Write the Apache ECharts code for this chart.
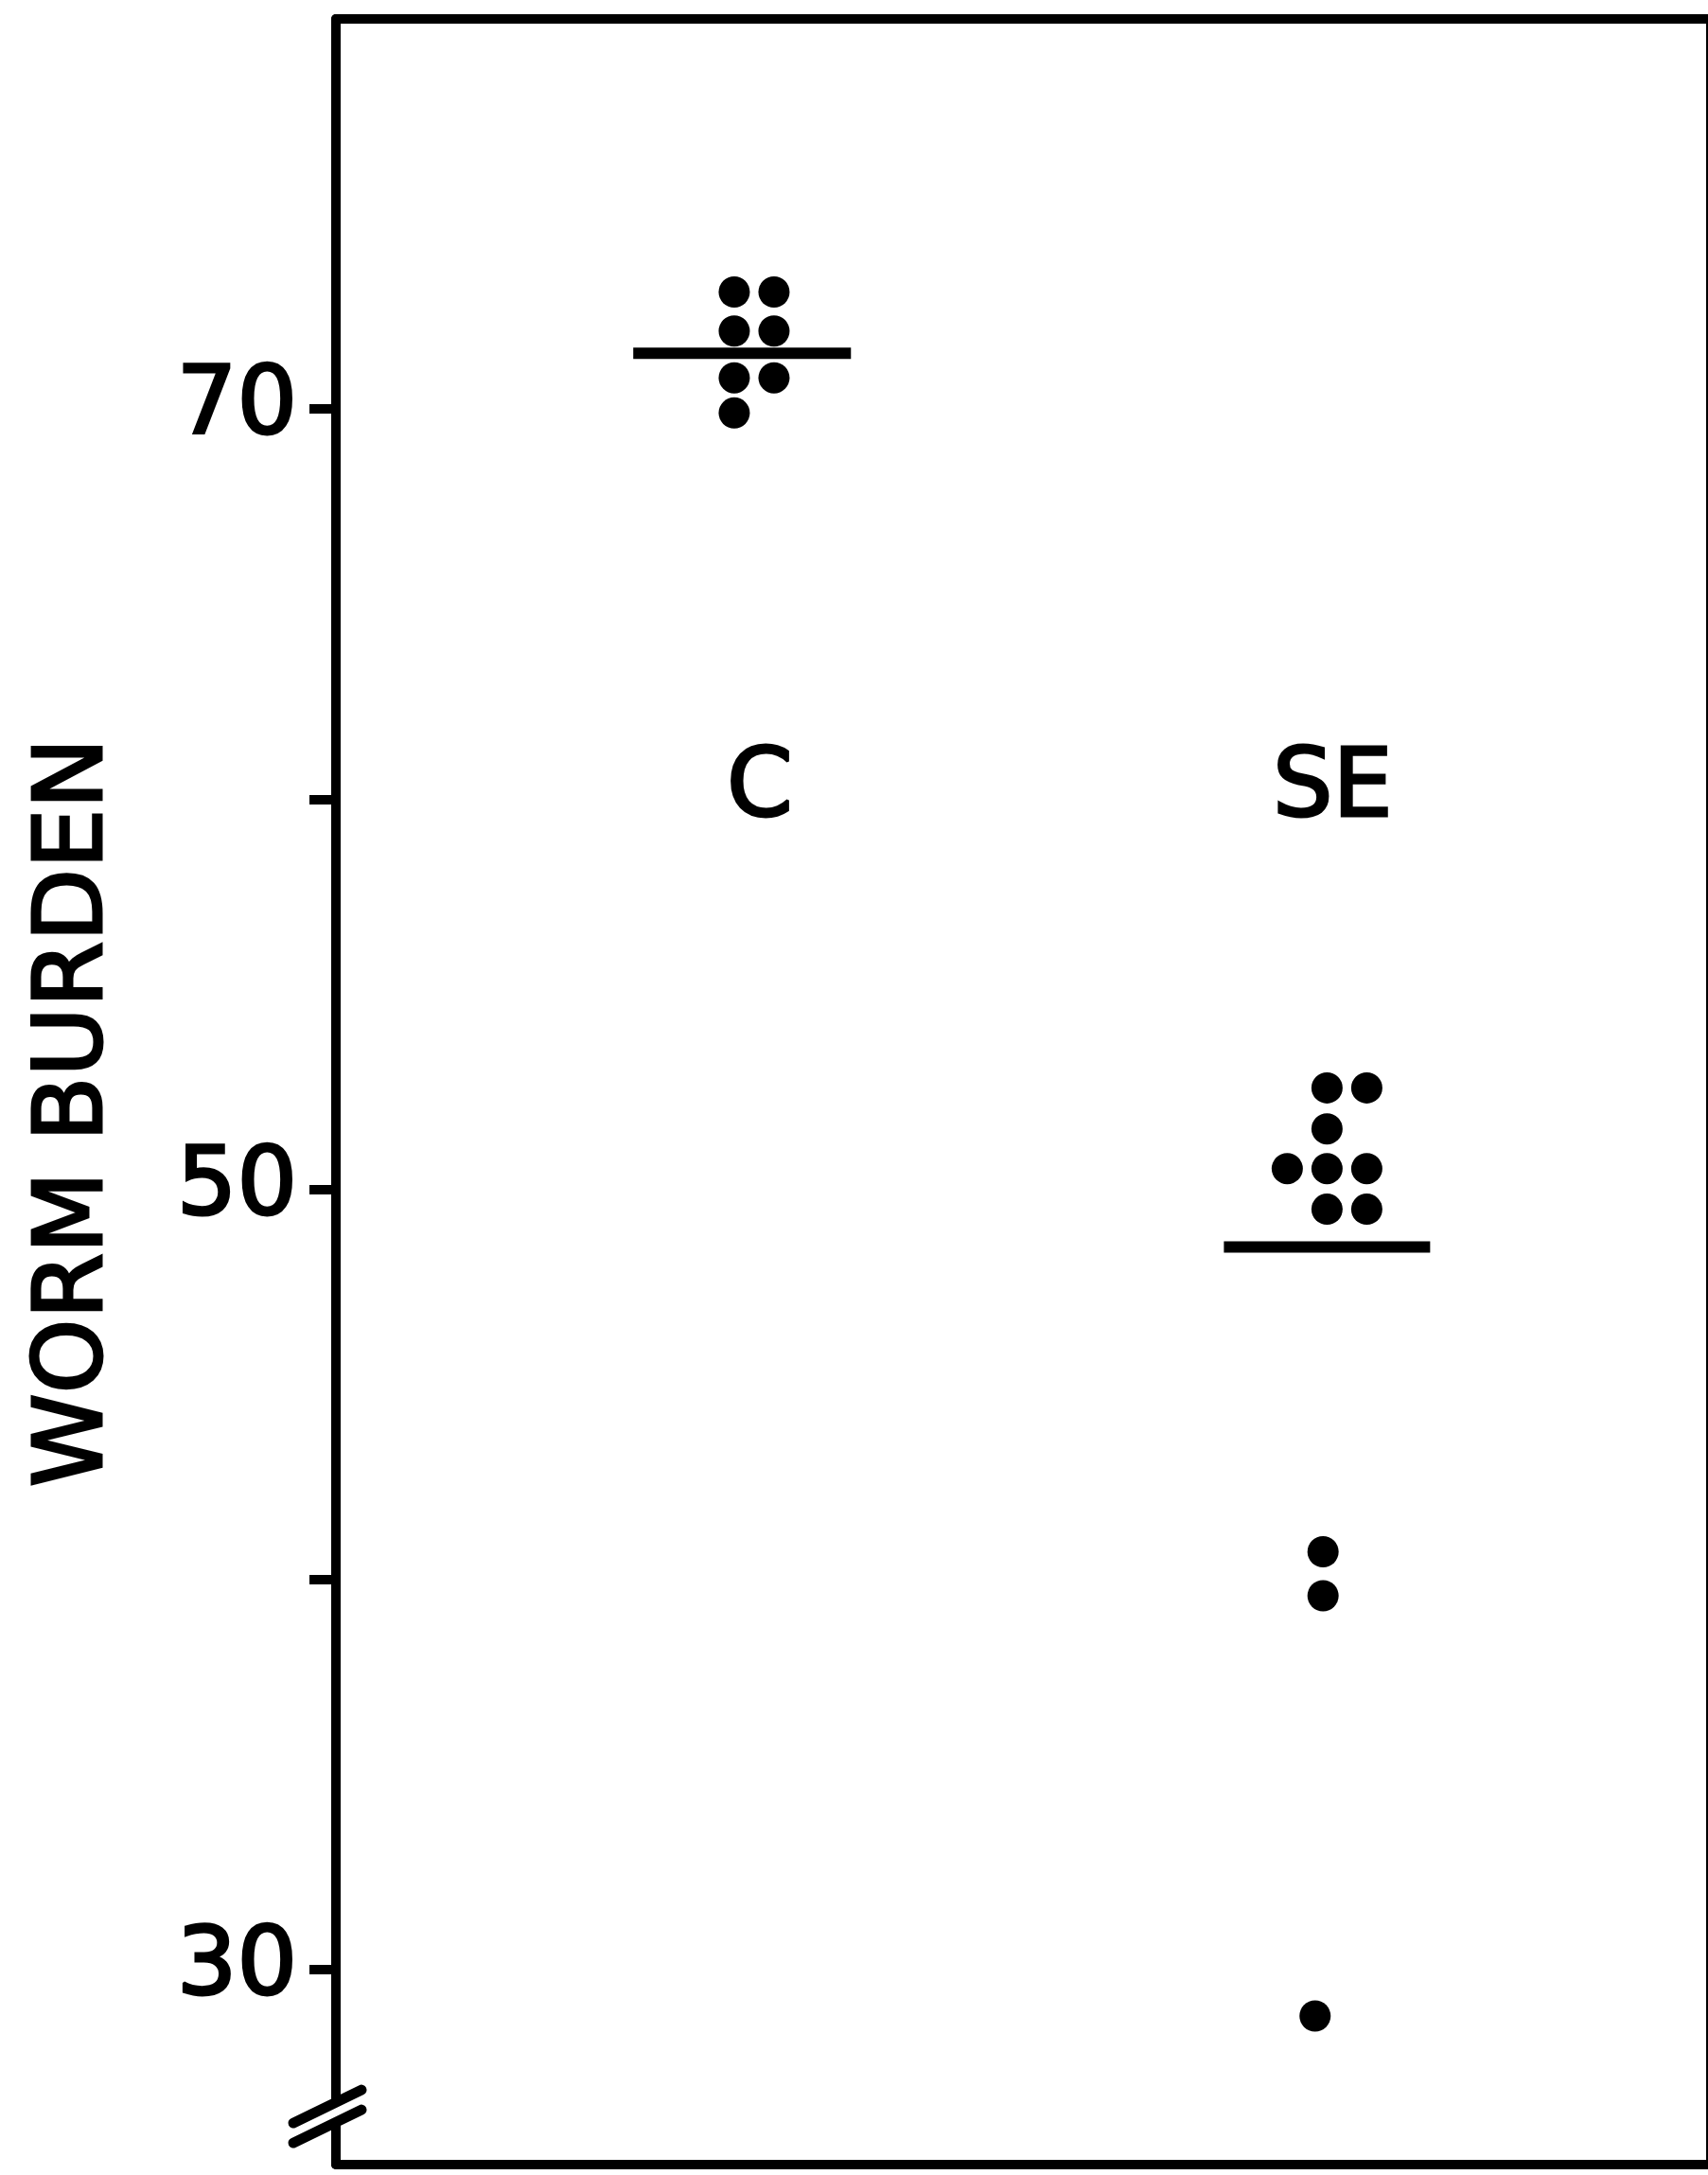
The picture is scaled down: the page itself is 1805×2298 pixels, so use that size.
<!DOCTYPE html>
<html><head><meta charset="utf-8">
<script src="https://cdn.jsdelivr.net/npm/echarts@6/dist/echarts.min.js"></script>
<style>html,body{margin:0;padding:0;background:#fff}#c{width:1805px;height:2298px}</style>
</head><body><div id="c"></div>
<script>
// ---- data ----
const groups = ['C', 'SE'];
const groupPos = [1, 2];
const cValues  = [73.0, 73.0, 72.0, 72.0, 70.8, 70.8, 69.9];
const cColumns = [-0.5, 0.5, -0.5, 0.5, -0.5, 0.5, -0.5];
const seValues  = [52.6, 52.6, 51.55, 50.53, 50.53, 50.53, 49.49, 49.49, 40.71, 39.58, 28.81];
const seColumns = [0, 1, 0, -1, 0, 1, 0, 1, -0.1, -0.1, -0.3];
const groupMeans = [71.43, 48.52];
const groupLabelLevel = 60.2;
const yTickValues = [30, 40, 50, 60, 70];
const yLabelValues = [30, 50, 70];
const yAxisTitle = 'WORM BURDEN';
const breakLevel = 26.32;

// ---- styling ----
const FONT = 'DejaVu Sans';
const X_MIN = 0.27, X_MAX = 2.67;
const COL_STEP = 0.0694;
const MEAN_HALF = [0.19, 0.18];
const MEAN_SHIFT = [-0.021, 0];
const LW = 10;
const TXT = {fontFamily: FONT, fontSize: 100, color: '#000', textBorderColor: '#000', textBorderWidth: 3};

function pts(values, cols, g) {
  return values.map((v, i) => [g + cols[i] * COL_STEP, v]);
}

const chart = echarts.init(document.getElementById('c'), null, {renderer: 'canvas'});
chart.setOption({
  animation: false,
  backgroundColor: '#fff',
  grid: {left: 355, right: -3, top: 20, bottom: 11, containLabel: false, outerBoundsMode: 'none'},
  xAxis: [
    {type: 'value', min: X_MIN, max: X_MAX, position: 'bottom',
     axisLine: {show: true, onZero: false, lineStyle: {color: '#000', width: LW}},
     axisTick: {show: false}, axisLabel: {show: false}, splitLine: {show: false}},
    {type: 'value', min: X_MIN, max: X_MAX, position: 'top',
     axisLine: {show: true, onZero: false, lineStyle: {color: '#000', width: LW}},
     axisTick: {show: false}, axisLabel: {show: false}, splitLine: {show: false}}
  ],
  yAxis: [
    {type: 'value', min: 25, max: 80, position: 'left',
     name: yAxisTitle, nameLocation: 'middle', nameRotate: 90, nameGap: 224,
     nameTextStyle: Object.assign({}, TXT, {padding: [0, 44, 0, 0]}),
     axisLine: {show: true, onZero: false, lineStyle: {color: '#000', width: LW}},
     axisTick: {show: true, inside: false, length: 28, customValues: yTickValues,
                lineStyle: {color: '#000', width: LW}},
     axisLabel: Object.assign({show: true, margin: 41, customValues: yLabelValues}, TXT),
     splitLine: {show: false}},
    {type: 'value', min: 25, max: 80, position: 'right',
     axisLine: {show: true, onZero: false, lineStyle: {color: '#000', width: LW}},
     axisTick: {show: false}, axisLabel: {show: false}, splitLine: {show: false}}
  ],
  series: [
    {type: 'scatter', name: groups[0], data: pts(cValues, cColumns, groupPos[0]),
     symbol: 'circle', symbolSize: 33, itemStyle: {color: '#000', opacity: 1}},
    {type: 'scatter', name: groups[1], data: pts(seValues, seColumns, groupPos[1]),
     symbol: 'circle', symbolSize: 33, itemStyle: {color: '#000', opacity: 1}},
    {type: 'custom', name: 'means',
     data: groupPos.map((g, i) => [g, groupMeans[i]]),
     renderItem: (params, api) => {
       const i = params.dataIndex;
       const x = api.value(0) + MEAN_SHIFT[i], m = api.value(1);
       const a = api.coord([x - MEAN_HALF[i], m]), b = api.coord([x + MEAN_HALF[i], m]);
       return {type: 'line', shape: {x1: a[0], y1: a[1], x2: b[0], y2: b[1]},
               style: {stroke: '#000', lineWidth: 12}};
     }},
    {type: 'custom', name: 'groupLabels',
     data: groupPos.map((g, i) => [g, groupLabelLevel, groups[i]]),
     renderItem: (params, api) => {
       const p = api.coord([api.value(0), api.value(1)]);
       return {type: 'text', x: p[0] + 6, y: p[1],
               style: {text: groups[params.dataIndex], fontFamily: FONT, fontSize: 100,
                       fill: '#000', stroke: '#000', lineWidth: 3,
                       align: 'center', verticalAlign: 'middle'}};
     }},
    {type: 'custom', name: 'axisBreak', clip: false, z: 5,
     data: [[X_MIN, breakLevel]],
     renderItem: (params, api) => {
       const p = api.coord([api.value(0), api.value(1)]);
       const ax = p[0], cy = p[1];
       const d = 10.5;
       const mk = (oy) => ({type: 'line',
         shape: {x1: ax - 45, y1: cy + oy + 21, x2: ax + 27, y2: cy + oy - 14},
         style: {stroke: '#000', lineWidth: 11, lineCap: 'round'}});
       return {type: 'group', children: [
         {type: 'rect', shape: {x: ax - 9, y: cy - d, width: 18, height: 2 * d},
          style: {fill: '#fff'}},
         mk(-d), mk(d)
       ]};
     }}
  ]
});
</script>
</body></html>
